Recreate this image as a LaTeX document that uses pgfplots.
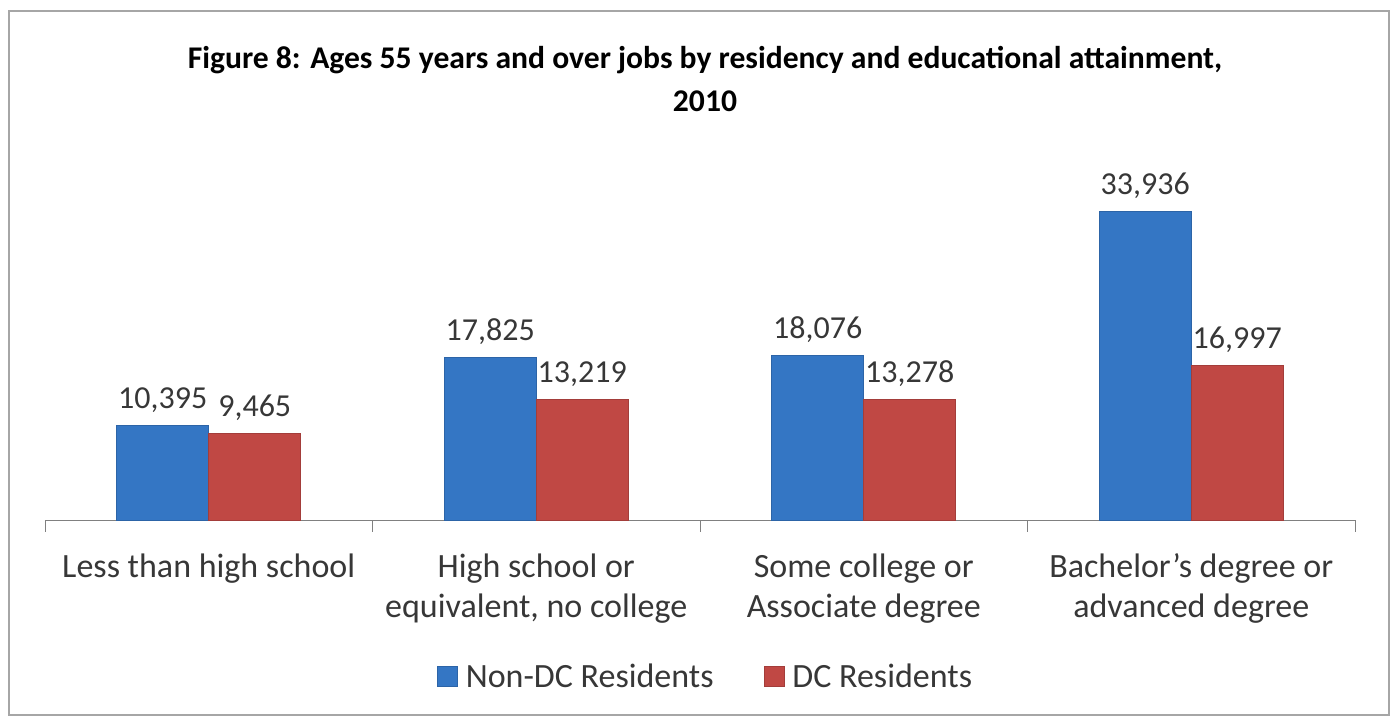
\documentclass[border=0pt]{standalone}
\usepackage{pgfplots}
\pgfplotsset{compat=1.18}
\usepackage{fontspec}
\setmainfont{Carlito}
\definecolor{barblue}{RGB}{52,118,196}
\definecolor{barred}{RGB}{192,72,68}
\definecolor{txt}{RGB}{55,55,55}
\begin{document}
\begin{tikzpicture}[x=0.5pt,y=0.5pt]
\path[use as bounding box] (0,0) rectangle (1395,721);
\draw[gray!70, line width=1.2pt] (9,6) rectangle (1389,710);
\node[font=\bfseries\fontsize{15.8}{21.5}\selectfont, align=center, text=black] at (705,642) {Figure 8: Ages 55 years and over jobs by residency and educational attainment,\\2010};
\begin{axis}[
  at={(45pt/2,201pt/2)}, anchor=south west,
  scale only axis, width=655pt, height=182pt,
  xmin=-0.5, xmax=3.5, ymin=0, ymax=40000,
  clip=false,
  ybar=0pt, bar width=46pt,
  axis x line=bottom, axis y line=none,
  axis line style={-, gray},
  ytick=\empty,
  xtick={0,1,2,3},
  xticklabels={{Less than high school}, {High school or\\equivalent, no college}, {Some college or\\Associate degree}, {Bachelor's degree or\\advanced degree}},
  xticklabel style={align=center, font=\fontsize{17}{20}\selectfont, text=txt, yshift=-9pt},
  major x tick style={draw=none},
  minor xtick={-0.5,0.5,1.5,2.5,3.5},
  minor x tick style={gray},
  minor tick length=6pt,
  tick align=outside,
  nodes near coords,
  every node near coord/.append style={font=\fontsize{16}{18}\selectfont, text=txt, yshift=3pt},
  point meta=explicit symbolic,
  legend columns=2,
  legend style={at={(0.505,-0.431)}, anchor=center, draw=none, font=\fontsize{17}{19}\selectfont, text=txt, /tikz/every even column/.append style={column sep=23pt}},
  legend image code/.code={\fill[#1] (0pt,-5pt) rectangle (10pt,5pt);},
  legend cell align=left,
]
\addplot[fill=barblue, draw=barblue!85!black] coordinates {(0,10395)[10,395] (1,17825)[17,825] (2,18076)[18,076] (3,33936)[33,936]};
\addplot[fill=barred, draw=barred!85!black] coordinates {(0,9465)[9,465] (1,13219)[13,219] (2,13278)[13,278] (3,16997)[16,997]};
\legend{\hspace{2pt}Non-DC Residents, \hspace{2pt}DC Residents}
\end{axis}
\end{tikzpicture}
\end{document}
